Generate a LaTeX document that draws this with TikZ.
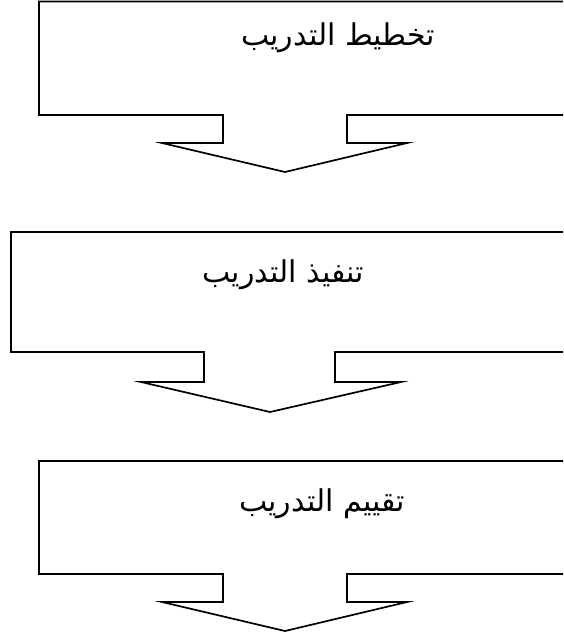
\documentclass[tikz,border=0pt]{standalone}
\usepackage{fontspec}
\newfontfamily\arabicfont[Script=Arabic]{DejaVu Sans}
\TeXXeTstate=1
\usepackage{tikz}
\usetikzlibrary{positioning}

\begin{document}
\begin{tikzpicture}[
  x=1pt, y=-1pt,
  callout/.style={draw, line width=1.7pt, line join=miter},
  lbl/.style={font=\arabicfont\fontsize{30}{36}\selectfont, inner sep=0pt},
]
\useasboundingbox (0,0) rectangle (563,637);
\clip (0,0) rectangle (563,637);
% planning
\draw[callout] (580,1.5) -- (39,1.5) -- (39,115) -- (223,115) -- (223,143) -- (162,143)
  -- (285,172) -- (407,143) -- (347,143) -- (347,115) -- (580,115);
\node[lbl] (plan) at (338,38) {\beginR تخطيط التدريب\endR};
% execution
\draw[callout] (580,232) -- (11,232) -- (11,352) -- (204,352) -- (204,382) -- (141,382)
  -- (270,412) -- (401,382) -- (335,382) -- (335,352) -- (580,352);
\node[lbl] (exec) at (283,275) {\beginR تنفيذ التدريب\endR};
% evaluation
\draw[callout] (580,461) -- (39,461) -- (39,574) -- (223,574) -- (223,602) -- (162,602)
  -- (285,631) -- (407,602) -- (347,602) -- (347,574) -- (580,574);
\node[lbl] (eval) at (322,504) {\beginR تقييم التدريب\endR};
\end{tikzpicture}
\end{document}
